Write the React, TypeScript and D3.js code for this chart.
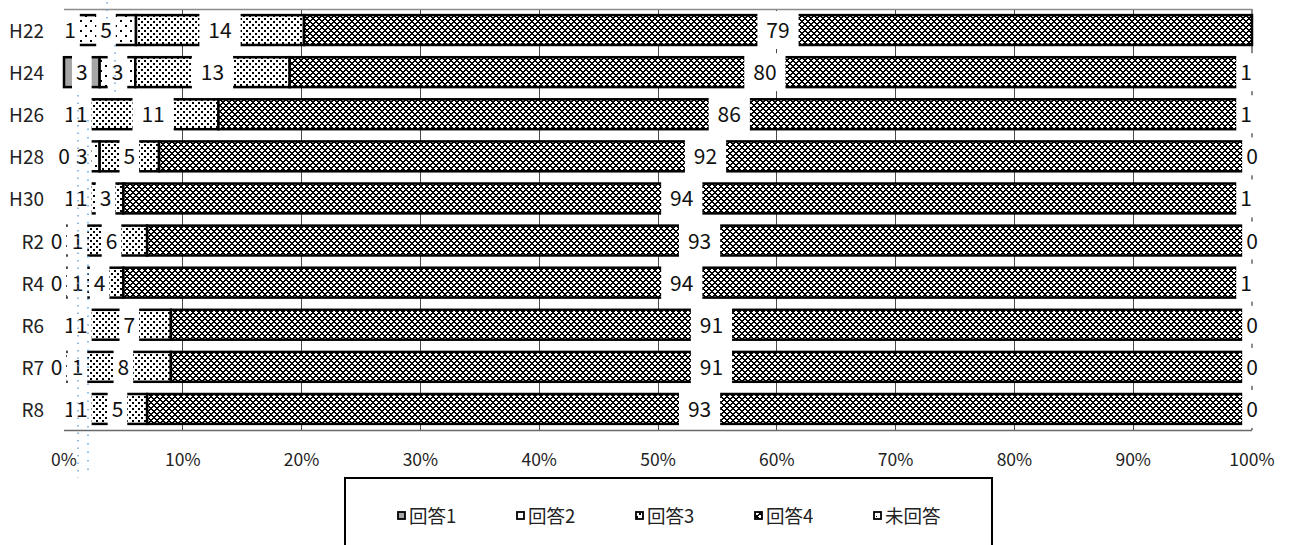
import React from "react";
import * as d3 from "d3";

// ---- data ----
const categories = ["H22", "H24", "H26", "H28", "H30", "R2", "R4", "R6", "R7", "R8"];
const seriesNames = ["回答1", "回答2", "回答3", "回答4", "未回答"];
const answer1 = [1, 3, 1, 0, 1, 0, 0, 1, 0, 1];
const answer2 = [5, 3, 1, 3, 1, 1, 1, 1, 1, 1];
const answer3 = [14, 13, 11, 5, 3, 6, 4, 7, 8, 5];
const answer4 = [79, 80, 86, 92, 94, 93, 94, 91, 91, 93];
const noAnswer: (number | null)[] = [null, 1, 1, 0, 1, 0, 1, 0, 0, 0];
const xTickValues = [0, 0.1, 0.2, 0.3, 0.4, 0.5, 0.6, 0.7, 0.8, 0.9, 1];

const W = 1292;
const H = 545;
const FONT = "'Noto Sans CJK JP', 'Noto Sans', sans-serif";
const patternIds = ["p-a1", "p-a2", "p-a3", "p-a4", "p-na"];

function Pixels({ size, pts, bg }: { size: number; pts: [number, number, number][]; bg: string }) {
  return (
    <g shapeRendering="crispEdges">
      <rect width={size} height={size} fill={bg} />
      {pts.map(([px, py, s], i) => (
        <rect key={i} x={px} y={py} width={s} height={s} fill="#000" />
      ))}
    </g>
  );
}

function Patterns() {
  // diamond lattice for 回答4 (period 6, 2px diagonals)
  const P = 6;
  const lattice: [number, number, number][] = [];
  for (let yy = 0; yy < P; yy++)
    for (let xx = 0; xx < P; xx++) {
      const a = (xx + yy) % P;
      const b = (xx - yy + 2 * P) % P;
      if (a <= 1 || b <= 1) lattice.push([xx, yy, 1]);
    }
  return (
    <defs>
      <pattern id="p-a1" patternUnits="userSpaceOnUse" width={4} height={4}>
        <rect width={4} height={4} fill="#a6a6a6" />
      </pattern>
      <pattern id="p-a2" patternUnits="userSpaceOnUse" width={10} height={10}>
        <Pixels size={10} bg="#fff" pts={[[0, 0, 2], [5, 5, 2]]} />
      </pattern>
      <pattern id="p-a3" patternUnits="userSpaceOnUse" width={6} height={6}>
        <Pixels size={6} bg="#fff" pts={[[0, 0, 2], [3, 3, 2]]} />
      </pattern>
      <pattern id="p-a4" patternUnits="userSpaceOnUse" width={P} height={P}>
        <Pixels size={P} bg="#fff" pts={lattice} />
      </pattern>
      <pattern id="p-na" patternUnits="userSpaceOnUse" width={8} height={8}>
        <Pixels size={8} bg="#fff" pts={[[0, 0, 1], [4, 4, 1]]} />
      </pattern>
    </defs>
  );
}

type Lab = { txt: string; cx: number; cy: number; w: number; k: number };

export default function App() {
  const seriesData = [answer1, answer2, answer3, answer4, noAnswer];
  const table = categories.map((c, i) => {
    const row: Record<string, any> = { category: c };
    seriesNames.forEach((s, k) => {
      row[s] = seriesData[k][i] ?? 0;
    });
    return row;
  });
  const layers = d3.stack<Record<string, any>>().keys(seriesNames).offset(d3.stackOffsetExpand)(table);

  const x = d3.scaleLinear().domain([0, 1]).range([64, 1252]);
  const y = d3
    .scaleBand<string>()
    .domain(categories)
    .range([9, 430])
    .paddingInner(0.29)
    .paddingOuter(0.145);
  const bw = y.bandwidth();

  const labelFont = 21;
  const charW = 11.6;
  const minGap = 13;

  // build labels per row, nudging overlapping neighbours apart (as in the reference)
  const labels: Lab[] = [];
  categories.forEach((c, i) => {
    const row: Lab[] = [];
    layers.forEach((layer, k) => {
      const v = seriesData[k][i];
      if (v === null) return;
      const d = layer[i];
      const txt = String(v);
      row.push({
        txt,
        cx: x((d[0] + d[1]) / 2),
        cy: y(c)! + bw / 2,
        w: txt.length * charW,
        k,
      });
    });
    for (let j = 1; j < row.length; j++) {
      const a = row[j - 1];
      const b = row[j];
      const need = (a.w + b.w) / 2 + 1;
      const dist = b.cx - a.cx;
      if (dist < Math.max(need, minGap) && dist < 8) {
        const push = (Math.max(need, minGap) + 8 - dist) / 2;
        a.cx -= push;
        b.cx += push;
      }
    }
    labels.push(...row);
  });

  return (
    <svg
      width={W}
      height={H}
      viewBox={`0 0 ${W} ${H}`}
      style={{ position: "absolute", left: 0, top: 0, background: "#fff" }}
      fontFamily={FONT}
    >
      <Patterns />
      <rect width={W} height={H} fill="#fff" />

      {/* gridlines */}
      {xTickValues.slice(1).map((t) => (
        <line
          key={t}
          x1={x(t)}
          x2={x(t)}
          y1={9}
          y2={430}
          stroke={t === 1 ? "#8c8c8c" : "#4a4a4a"}
          strokeWidth={t === 1 ? 1.5 : 1}
          shapeRendering="crispEdges"
        />
      ))}
      {/* plot top / bottom border */}
      <line x1={x(0)} x2={x(1)} y1={9.5} y2={9.5} stroke="#8c8c8c" strokeWidth={1.5} />
      <line x1={x(0)} x2={x(1)} y1={430.5} y2={430.5} stroke="#6a6a6a" strokeWidth={1.5} />

      {/* bars */}
      {layers.map((layer, k) => (
        <g key={seriesNames[k]}>
          {layer.map((d, i) => {
            if (seriesData[k][i] === null) return null;
            const x0 = x(d[0]);
            const x1 = x(d[1]);
            return (
              <rect
                key={categories[i]}
                x={x0}
                y={y(categories[i])!}
                width={Math.max(0, x1 - x0)}
                height={bw}
                fill={`url(#${patternIds[k]})`}
                stroke="#000"
                strokeWidth={2.5}
              />
            );
          })}
        </g>
      ))}

      {/* data labels with white boxes */}
      {labels.map((l, idx) => {
        const boxW = l.w + (l.txt.length > 1 ? 18 : 8);
        return (
          <g key={idx}>
            <rect x={l.cx - boxW / 2} y={l.cy - bw / 2 - 4} width={boxW} height={bw + 8} fill="#fff" />
            <text x={l.cx} y={l.cy + 8} textAnchor="middle" fontSize={labelFont} fill="#111">
              {l.txt}
            </text>
          </g>
        );
      })}

      {/* faint blue dotted lines */}
      <line x1={78} x2={78} y1={95} y2={478} stroke="#6fa8dc" strokeWidth={1.5} strokeDasharray="1.5 6" />
      <line x1={88} x2={88} y1={120} y2={470} stroke="#6fa8dc" strokeWidth={1.5} strokeDasharray="1.5 7" />
      <line x1={107} x2={107} y1={2} y2={22} stroke="#6fa8dc" strokeWidth={1.5} strokeDasharray="1.5 6" />
      <line x1={115} x2={115} y1={45} y2={92} stroke="#6fa8dc" strokeWidth={1.5} strokeDasharray="1.5 6" />

      {/* category labels */}
      {categories.map((c) => (
        <text key={c} x={44} y={y(c)! + bw / 2 + 8} textAnchor="end" fontSize={19} fill="#222">
          {c}
        </text>
      ))}

      {/* x tick labels */}
      {xTickValues.map((t) => (
        <text key={t} x={x(t)} y={466} textAnchor="middle" fontSize={17.5} fill="#222">
          {d3.format(".0%")(t)}
        </text>
      ))}

      {/* legend */}
      <rect x={345} y={478} width={647} height={90} fill="#fff" stroke="#000" strokeWidth={2} />
      {seriesNames.map((s, k) => {
        const lx = 398 + k * 119;
        return (
          <g key={s}>
            <rect x={lx} y={512} width={7} height={7} fill={`url(#${patternIds[k]})`} stroke="#000" strokeWidth={1.8} />
            <text x={lx + 11} y={523} fontSize={18.5} fill="#222">
              {s}
            </text>
          </g>
        );
      })}
    </svg>
  );
}
